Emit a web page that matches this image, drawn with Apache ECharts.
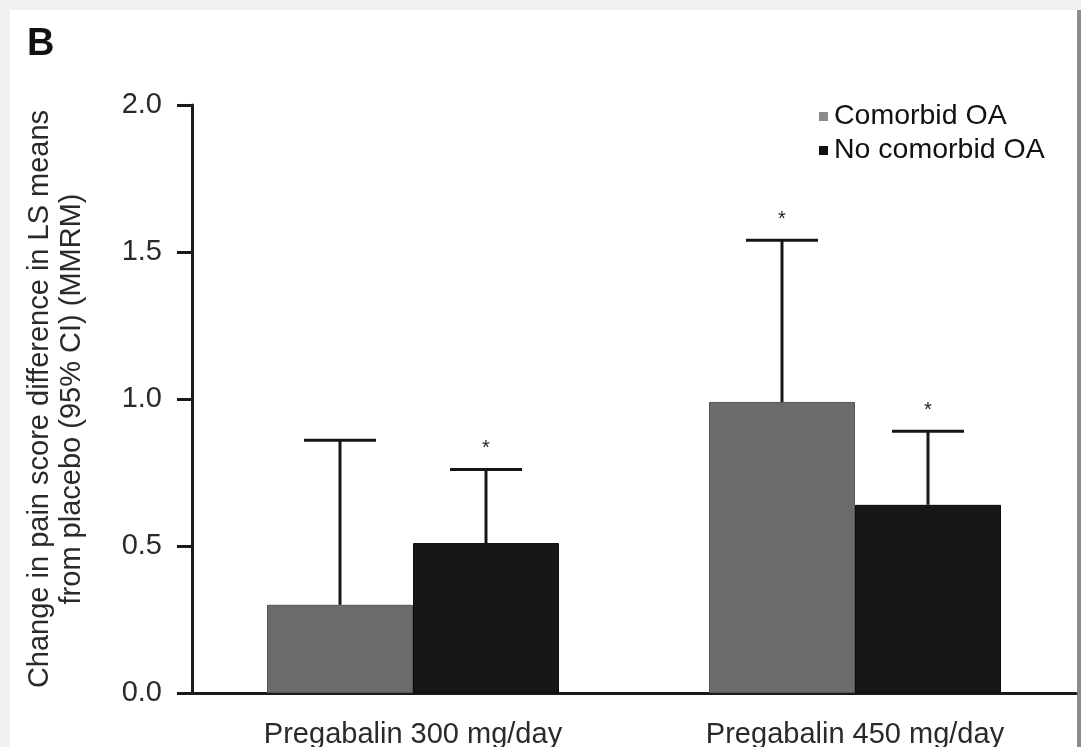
<!DOCTYPE html>
<html>
<head>
<meta charset="utf-8">
<script src="https://cdn.jsdelivr.net/npm/echarts@6/dist/echarts.min.js"></script>
<style>
html,body{margin:0;padding:0;background:#f1f1f1;}
#chart{width:1081px;height:747px;}
</style>
</head>
<body>
<div id="chart"></div>
<script>
var categories = ['Pregabalin 300 mg/day', 'Pregabalin 450 mg/day'];
var seriesNames = ['Comorbid OA', 'No comorbid OA'];
var comorbidMeans = [0.30, 0.99];
var comorbidUpper = [0.86, 1.54];
var comorbidSignificant = [false, true];
var noComorbidMeans = [0.51, 0.64];
var noComorbidUpper = [0.76, 0.89];
var noComorbidSignificant = [true, true];
var yTicks = [0, 0.5, 1.0, 1.5, 2.0];

var FONT = 'Liberation Sans, Arial, Helvetica, sans-serif';
var BAR_W = 146;

function errData(means, upper, sig) {
  return categories.map(function (c, i) { return [i, means[i], upper[i], sig[i] ? 1 : 0]; });
}

function errRender(offset) {
  return function (params, api) {
    var cat = api.value(0);
    var base = api.coord([cat, api.value(1)]);
    var top = api.coord([cat, api.value(2)]);
    var x = base[0] + offset;
    var style = { stroke: '#161616', lineWidth: 3 };
    var children = [
      { type: 'line', shape: { x1: x, y1: base[1], x2: x, y2: top[1] }, style: style },
      { type: 'line', shape: { x1: x - 36, y1: top[1], x2: x + 36, y2: top[1] }, style: style }
    ];
    if (api.value(3)) {
      children.push({ type: 'text', style: { text: '*', x: x, y: top[1] - 21, align: 'center', verticalAlign: 'middle', fontSize: 20, fontFamily: FONT, fill: '#222' } });
    }
    return { type: 'group', children: children };
  };
}

var chart = echarts.init(document.getElementById('chart'), null, { renderer: 'canvas' });
chart.setOption({
  animation: false,
  backgroundColor: 'transparent',
  graphic: [
    { type: 'rect', z: -10, shape: { x: 10, y: 10, width: 1067, height: 737 }, style: { fill: '#ffffff' } },
    { type: 'rect', z: -10, shape: { x: 1077, y: 10, width: 4, height: 737 }, style: { fill: '#8c8c8c' } },
    { type: 'text', left: 27, top: 26, style: { text: 'B', fontSize: 38, fontWeight: 'bold', fontFamily: FONT, fill: '#111' } }
  ],
  legend: {
    orient: 'vertical',
    left: 814,
    top: 97,
    itemWidth: 9,
    itemHeight: 9,
    itemGap: 5,
    icon: 'rect',
    textStyle: { fontSize: 28.5, fontFamily: FONT, color: '#111', padding: [0, 0, 0, 1] },
    data: [
      { name: seriesNames[0], itemStyle: { color: '#8a8a8a', borderWidth: 0 } },
      { name: seriesNames[1], itemStyle: { color: '#111', borderWidth: 0 } }
    ]
  },
  grid: { left: 192, right: 5, top: 105, bottom: 54, containLabel: false, outerBoundsMode: 'none' },
  xAxis: {
    type: 'category',
    data: categories,
    axisLine: { lineStyle: { color: '#1a1a1a', width: 3 } },
    axisTick: { show: false },
    axisLabel: { fontSize: 29, fontFamily: FONT, color: '#2a2a2a', margin: 27 }
  },
  yAxis: {
    type: 'value',
    min: 0,
    max: 2,
    interval: 0.5,
    name: 'Change in pain score difference in LS means\nfrom placebo (95% CI) (MMRM)',
    nameLocation: 'middle',
    nameRotate: 90,
    nameGap: 104,
    nameTextStyle: { fontSize: 29, fontFamily: FONT, color: '#2a2a2a', lineHeight: 32 },
    axisLine: { show: true, lineStyle: { color: '#1a1a1a', width: 3 } },
    axisTick: { show: true, length: 15, lineStyle: { color: '#1a1a1a', width: 3 } },
    splitLine: { show: false },
    axisLabel: {
      fontSize: 29, fontFamily: FONT, color: '#2a2a2a', margin: 30,
      formatter: function (v) { return yTicks.indexOf(v) >= 0 ? v.toFixed(1) : ''; }
    }
  },
  series: [
    {
      name: seriesNames[0], type: 'bar', data: comorbidMeans, barWidth: BAR_W, barGap: '0%',
      itemStyle: { color: '#6b6b6b', borderColor: '#555', borderWidth: 1 }
    },
    {
      name: seriesNames[1], type: 'bar', data: noComorbidMeans, barWidth: BAR_W, barGap: '0%',
      itemStyle: { color: '#171717', borderColor: '#0d0d0d', borderWidth: 1 }
    },
    {
      type: 'custom', name: 'errComorbid', renderItem: errRender(-BAR_W / 2),
      encode: { x: 0, y: [1, 2] }, data: errData(comorbidMeans, comorbidUpper, comorbidSignificant), z: 5
    },
    {
      type: 'custom', name: 'errNoComorbid', renderItem: errRender(BAR_W / 2),
      encode: { x: 0, y: [1, 2] }, data: errData(noComorbidMeans, noComorbidUpper, noComorbidSignificant), z: 5
    }
  ]
});
</script>
</body>
</html>
